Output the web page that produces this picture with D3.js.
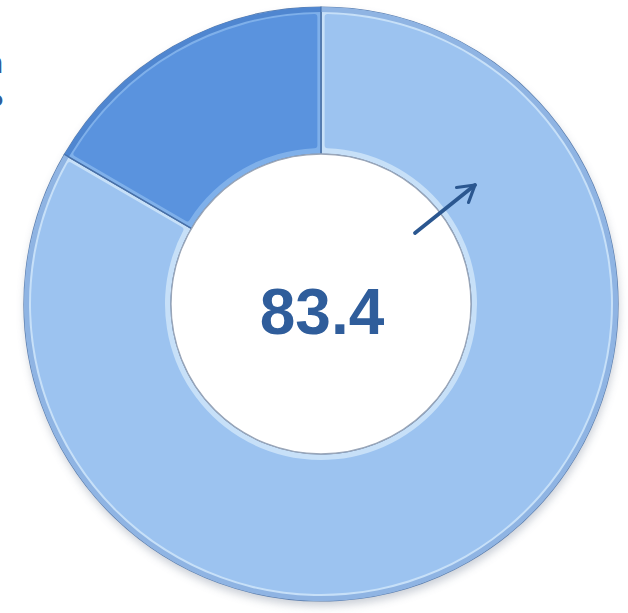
<!DOCTYPE html>
<html>
<head>
<meta charset="utf-8">
<script src="https://cdn.jsdelivr.net/npm/d3@7"></script>
<style>
  html, body { margin: 0; padding: 0; background: #fff; }
  svg { display: block; }
</style>
</head>
<body>
<div id="chart"></div>
<script>
// Data
const categories = ['Share', 'Rest'];
const values = [83.4, 16.6];
const centerLabel = '83.4';
const sideLabels = ['n', 'o'];

const colors = ['#9cc3f0', '#5a93de'];
const edgeColors = ['#c7e0f8', '#7fb0ea'];

const width = 628;
const height = 613;
const cx = 321;
const cy = 304;
const outerR = 297;
const innerR = 150;

const svg = d3.select('#chart')
  .append('svg')
  .attr('width', width)
  .attr('height', height);

const defs = svg.append('defs');
defs.append('filter')
  .attr('id', 'shadow')
  .attr('x', '-20%').attr('y', '-20%')
  .attr('width', '140%').attr('height', '140%')
  .append('feGaussianBlur')
  .attr('stdDeviation', 4);

const data = categories.map((c, i) => ({ cat: c, value: values[i], i }));
const pie = d3.pie().sort(null).value((d) => d.value);
const arcs = pie(data);

const g = svg.append('g').attr('transform', `translate(${cx}, ${cy})`);

// soft shadow under the ring
g.append('path')
  .attr('d', d3.arc().innerRadius(innerR - 2).outerRadius(outerR)({ startAngle: 0, endAngle: 2 * Math.PI }))
  .attr('transform', 'translate(1, 5)')
  .attr('fill', '#8a94a6')
  .attr('opacity', 0.45)
  .attr('filter', 'url(#shadow)');

// Base slice (edge colour)
const baseArc = d3.arc().innerRadius(innerR).outerRadius(outerR);
g.selectAll('path.base')
  .data(arcs).enter()
  .append('path')
  .attr('class', 'base')
  .attr('d', baseArc)
  .attr('fill', (d) => edgeColors[d.data.i])
  .attr('stroke', '#5d7fae')
  .attr('stroke-width', 1.2);

// darker outer rim band
const rimArc = d3.arc().innerRadius(outerR - 5).outerRadius(outerR);
g.selectAll('path.rim')
  .data(arcs).enter()
  .append('path')
  .attr('class', 'rim')
  .attr('d', rimArc)
  .attr('fill', (d) => (d.data.i === 0 ? '#8fb4e3' : '#4f86d0'));

// Face of slice (inset)
const faceArc = d3.arc()
  .innerRadius(innerR + 6)
  .outerRadius(outerR - 7)
  .padAngle(0.022)
  .cornerRadius(3);
g.selectAll('path.face')
  .data(arcs).enter()
  .append('path')
  .attr('class', 'face')
  .attr('d', faceArc)
  .attr('fill', (d) => colors[d.data.i]);

// thin dark separator lines between slices
arcs.forEach((a) => {
  const ang = a.startAngle;
  const s = Math.sin(ang);
  const c = -Math.cos(ang);
  g.append('line')
    .attr('x1', s * innerR).attr('y1', c * innerR)
    .attr('x2', s * outerR).attr('y2', c * outerR)
    .attr('stroke', '#3f6aa5')
    .attr('stroke-width', 1.4)
    .attr('opacity', 0.75);
});

// inner hole edge
g.append('circle')
  .attr('r', innerR)
  .attr('fill', '#fff')
  .attr('stroke', '#9aa6b8')
  .attr('stroke-width', 1.3);

// Center value
g.append('text')
  .attr('x', 1)
  .attr('y', 30)
  .attr('text-anchor', 'middle')
  .attr('font-family', 'Liberation Sans, Arial, sans-serif')
  .attr('font-weight', 'bold')
  .attr('font-size', 64)
  .attr('fill', '#2f5d9b')
  .text(centerLabel);

// Arrow
defs.append('marker')
  .attr('id', 'head')
  .attr('viewBox', '0 0 10 10')
  .attr('refX', 8.5).attr('refY', 5)
  .attr('markerWidth', 6).attr('markerHeight', 6)
  .attr('orient', 'auto')
  .append('path')
  .attr('d', 'M1.5,0.8 L8.5,5 L1.5,9.2')
  .attr('fill', 'none')
  .attr('stroke', '#2b5790')
  .attr('stroke-width', 1.4)
  .attr('stroke-linecap', 'round')
  .attr('stroke-linejoin', 'round');

svg.append('line')
  .attr('x1', 415).attr('y1', 233)
  .attr('x2', 475).attr('y2', 185)
  .attr('stroke', '#2b5790')
  .attr('stroke-width', 3.8)
  .attr('stroke-linecap', 'round')
  .attr('marker-end', 'url(#head)');

// cut-off labels at the left edge
svg.append('text')
  .attr('x', 3).attr('y', 73)
  .attr('text-anchor', 'end')
  .attr('font-family', 'Liberation Sans, Arial, sans-serif')
  .attr('font-weight', 'bold')
  .attr('font-size', 29)
  .attr('fill', '#2f5d9b')
  .text(sideLabels[0]);
svg.append('text')
  .attr('x', 3).attr('y', 106)
  .attr('text-anchor', 'end')
  .attr('font-family', 'Liberation Sans, Arial, sans-serif')
  .attr('font-weight', 'bold')
  .attr('font-size', 21)
  .attr('fill', '#2f5d9b')
  .text(sideLabels[1]);
</script>
</body>
</html>
